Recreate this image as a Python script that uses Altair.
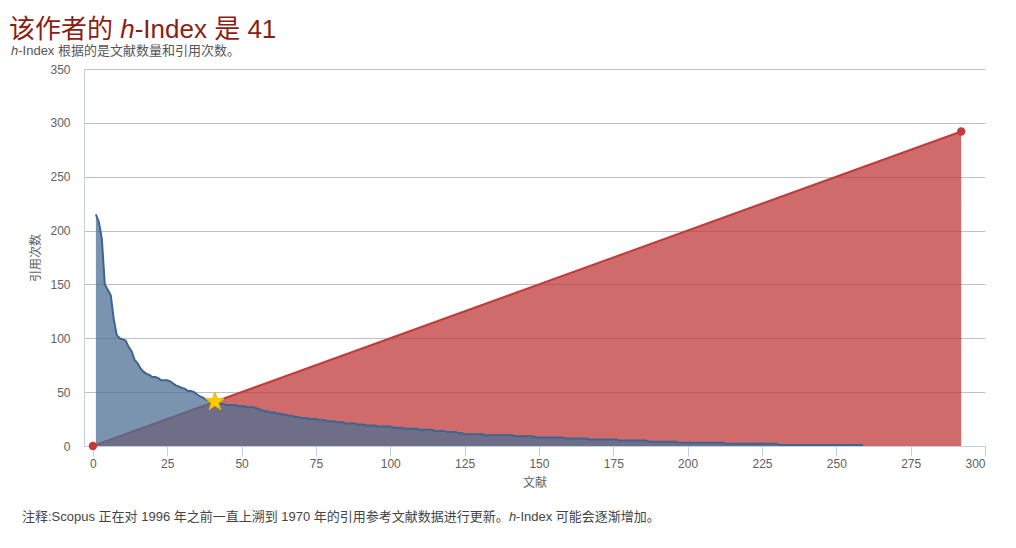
import altair as alt
import pandas as pd

# ---- data ----
citations = [
    215, 208, 192, 150, 145, 140, 118, 103, 100, 99,
    98, 92, 88, 80, 77, 72, 69, 67, 66, 64,
    64, 63, 61, 61, 61, 60, 58, 56, 55, 54,
    53, 51, 51, 50, 48, 46, 45, 43, 42, 41,
    41, 40, 39, 39, 38, 38, 38, 38, 37, 37,
    37, 36, 36, 36, 35, 34, 33, 32, 32, 31,
    31, 30, 30, 29, 29, 28, 28, 27, 27, 26,
    26, 26, 25, 25, 25, 24, 24, 24, 23, 23,
    23, 22, 22, 22, 21, 21, 21, 21, 20, 20,
    20, 19, 19, 19, 19, 18, 18, 18, 18, 18,
    17, 17, 17, 17, 16, 16, 16, 16, 16, 15,
    15, 15, 15, 15, 14, 14, 14, 14, 13, 13,
    13, 13, 12, 12, 11, 11, 11, 11, 11, 11,
    11, 10, 10, 10, 10, 10, 10, 10, 10, 10,
    10, 9, 9, 9, 9, 9, 9, 9, 8, 8,
    8, 8, 8, 8, 8, 8, 8, 8, 7, 7,
    7, 7, 7, 7, 7, 7, 6, 6, 6, 6,
    6, 6, 6, 6, 6, 6, 5, 5, 5, 5,
    5, 5, 5, 5, 5, 5, 4, 4, 4, 4,
    4, 4, 4, 4, 4, 4, 3, 3, 3, 3,
    3, 3, 3, 3, 3, 3, 3, 3, 3, 3,
    3, 3, 2, 2, 2, 2, 2, 2, 2, 2,
    2, 2, 2, 2, 2, 2, 2, 2, 2, 2,
    1, 1, 1, 1, 1, 1, 1, 1, 1, 1,
    1, 1, 1, 1, 1, 1, 1, 1, 1, 1,
    1, 1, 1, 1, 1, 1, 1, 1, 1,
]
ranks = list(range(1, len(citations) + 1))
diag_docs = [0, 292]
diag_cites = [0, 292]
h_index = 41
x_ticks = [0, 25, 50, 75, 100, 125, 150, 175, 200, 225, 250, 275, 300]
y_ticks = [0, 50, 100, 150, 200, 250, 300, 350]

title_a = "该作者的 "
title_h = "h"
title_b = "-Index 是 41"
sub_h = "h"
sub_b = "-Index 根据的是文献数量和引用次数。"
note_a = "注释:Scopus 正在对 1996 年之前一直上溯到 1970 年的引用参考文献数据进行更新。"
note_h = "h"
note_b = "-Index 可能会逐渐增加。"
x_title = "文献"
y_title = "引用次数"

FONT = "Liberation Sans, Noto Sans CJK SC"
W, H = 901, 377
STAR = ("M0,-1 L0.235,-0.324 L0.951,-0.309 L0.380,0.124 L0.588,0.809 "
        "L0,0.4 L-0.588,0.809 L-0.380,0.124 L-0.951,-0.309 L-0.235,-0.324 Z")

cites_df = pd.DataFrame({"doc": ranks, "cites": citations})
diag_df = pd.DataFrame({"doc": diag_docs, "cites": diag_cites})
star_df = pd.DataFrame({"doc": [h_index], "cites": [h_index]})

xs = alt.Scale(domain=[-3, 300], nice=False, zero=False)
ys = alt.Scale(domain=[0, 350], nice=False)

x_axis = alt.Axis(values=x_ticks, title=x_title, grid=False,
                  domainColor="#C0D0E0", tickColor="#C0D0E0", tickSize=10,
                  labelColor="#606060", labelFontSize=12, labelPadding=2,
                  labelFont=FONT, titleFont=FONT,
                  titleColor="#606060", titleFontSize=12, titleFontWeight="normal",
                  titlePadding=8)
y_axis = alt.Axis(values=y_ticks, title=y_title, grid=True, gridColor="#C0C0C0",
                  domainColor="#C0D0E0", ticks=False, tickSize=0, labelPadding=14,
                  labelColor="#606060", labelFontSize=12,
                  labelFont=FONT, titleFont=FONT,
                  titleColor="#606060", titleFontSize=12, titleFontWeight="normal",
                  titlePadding=7)

red_area = alt.Chart(diag_df).mark_area(color="#C03A3A", opacity=0.75).encode(
    x=alt.X("doc:Q", scale=xs, axis=x_axis),
    y=alt.Y("cites:Q", scale=ys, axis=y_axis),
)
red_line = alt.Chart(diag_df).mark_line(color="#C23B3B", strokeWidth=2).encode(
    x="doc:Q", y="cites:Q")
blue_area = alt.Chart(cites_df).mark_area(color="#4E6F93", opacity=0.75).encode(
    x="doc:Q", y="cites:Q")
blue_line = alt.Chart(cites_df).mark_line(color="#3E6590", strokeWidth=2).encode(
    x="doc:Q", y="cites:Q")
red_pts = alt.Chart(diag_df).mark_circle(color="#C23B3B", size=70, opacity=1).encode(
    x="doc:Q", y="cites:Q")
star = alt.Chart(star_df).mark_point(shape=STAR, filled=True, fill="#FFCC00",
                                     stroke="#EDB200", strokeWidth=1, opacity=1,
                                     size=380).encode(x="doc:Q", y="cites:Q")


def txt(s, x, y, size, color, italic=False):
    return alt.Chart(pd.DataFrame({"t": [s]})).mark_text(
        align="left", baseline="alphabetic", font=FONT, fontSize=size,
        color=color, fontStyle="italic" if italic else "normal",
    ).encode(text="t:N", x=alt.value(x), y=alt.value(y))


TC = "#8B1E14"
SC = "#555555"
NC = "#444444"
texts = [
    txt(title_a, -75, -31, 26, TC),
    txt(title_h, -75 + 111.2, -31, 26, TC, True),
    txt(title_b, -75 + 125.7, -31, 26, TC),
    txt(sub_h, -73, -14, 13, SC, True),
    txt(sub_b, -73 + 7.23, -14, 13, SC),
    txt(note_a, -62, 452, 13, NC),
    txt(note_h, -62 + 486.9, 452, 13, NC, True),
    txt(note_b, -62 + 494.1, 452, 13, NC),
]

chart = alt.layer(red_area, red_line, blue_area, blue_line, red_pts, star, *texts).properties(
    width=W, height=H,
    padding={"left": 76, "top": 61, "right": 23, "bottom": 94},
    autosize=alt.AutoSizeParams(type="none"),
    background="white",
).configure_view(stroke=None)

chart.save("out.html", embed_options={"renderer": "svg", "actions": False})
